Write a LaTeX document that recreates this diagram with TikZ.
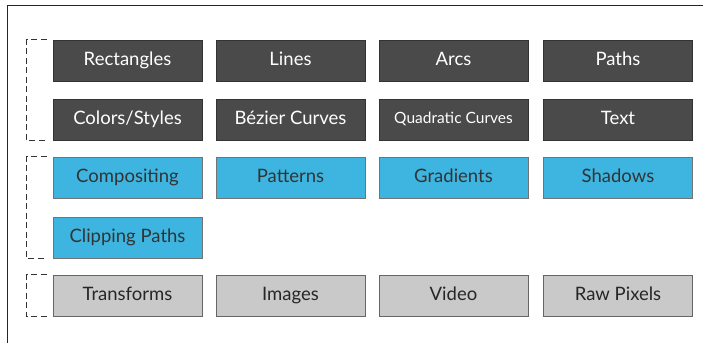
\documentclass[tikz,border=0pt]{standalone}
\usepackage{fontspec}
\setmainfont{Lato}
\usepackage{xcolor}
\usepackage{tikz}
\definecolor{bxdark}{HTML}{4B4A4A}
\definecolor{bxblue}{HTML}{3DB5E0}
\definecolor{bxlight}{HTML}{C9C9C9}
\tikzset{
  featbox/.style={minimum width=149pt, minimum height=41pt, inner sep=0pt, text height=13pt, text depth=3.5pt, line width=0.8pt, font=\fontsize{18.5}{20}\selectfont},
  fdark/.style={featbox, fill=bxdark, draw=black!80, text=white},
  fblue/.style={featbox, fill=bxblue, draw=black!55, text=black!80},
  flight/.style={featbox, fill=bxlight, draw=black!60, text=black!85},
  grpbracket/.style={line width=1.2pt, draw=black!80, dash pattern=on 6pt off 3.5pt},
  frameline/.style={line width=1pt, draw=black!85},
}
\begin{document}
\begin{tikzpicture}[x=1pt, y=-1pt]
\useasboundingbox (0,0) rectangle (703,343);
\draw[frameline] (703,5) -- (7,5) -- (7,343);
\node[fdark] (rect) at (127.5,60.5) {Rectangles};
\node[fdark] (lines) at (290.5,60.5) {Lines};
\node[fdark] (arcs) at (453.5,60.5) {Arcs};
\node[fdark] (paths) at (618,60.5) {Paths};
\node[fdark] (colors) at (127.5,119.5) {Colors/Styles};
\node[fdark] (bezier) at (290.5,119.5) {Bézier Curves};
\node[fdark, font=\fontsize{15.5}{18}\selectfont, text height=11pt, text depth=3pt] (quad) at (453.5,119.5) {Quadratic Curves};
\node[fdark] (text) at (618,119.5) {Text};
\node[fblue] (compos) at (127.5,177.5) {Compositing};
\node[fblue] (patterns) at (290.5,177.5) {Patterns};
\node[fblue] (gradients) at (453.5,177.5) {Gradients};
\node[fblue] (shadows) at (618,177.5) {Shadows};
\node[fblue] (clipping) at (127.5,237.5) {Clipping Paths};
\node[flight] (transforms) at (127.5,295.5) {Transforms};
\node[flight] (images) at (290.5,295.5) {Images};
\node[flight] (video) at (453.5,295.5) {Video};
\node[flight] (rawpix) at (618,295.5) {Raw Pixels};
% group brackets
\draw[grpbracket] ([xshift=-6pt]rect.north west) -- ++(-20,0) |- ([xshift=-6pt]colors.south west);
\draw[grpbracket] ([xshift=-6pt]compos.north west) -- ++(-20,0) |- ([xshift=-6pt]clipping.south west);
\draw[grpbracket] ([xshift=-6pt]transforms.north west) -- ++(-20,0) |- ([xshift=-6pt]transforms.south west);
\end{tikzpicture}
\end{document}
